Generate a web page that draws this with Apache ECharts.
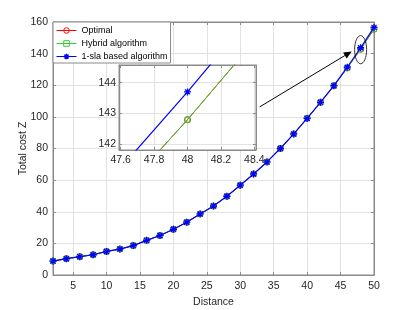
<!DOCTYPE html>
<html><head><meta charset="utf-8">
<script src="https://cdn.jsdelivr.net/npm/echarts@6/dist/echarts.min.js"></script>
<style>html,body{margin:0;padding:0;background:#fff}#c{width:413px;height:310px}</style>
</head><body><div id="c"></div>
<script>
const distance = [2,4,6,8,10,12,14,16,18,20,22,24,26,28,30,32,34,36,38,40,42,44,46,48,50];
const optimal  = [8.8,10.3,11.6,12.8,14.9,16.4,18.6,21.9,25.0,28.9,33.4,38.6,43.6,49.8,56.8,63.9,71.5,80.0,89.2,99.2,109.2,119.7,130.9,142.8,155.5];
const hybrid   = [8.8,10.3,11.6,12.8,14.9,16.4,18.6,21.9,25.0,28.9,33.4,38.6,43.6,49.8,56.8,63.9,71.5,80.0,89.2,99.2,109.2,119.7,130.9,142.8,155.5];
const slaBased = [8.8,10.3,11.6,12.8,14.9,16.4,18.6,21.9,25.0,28.9,33.4,38.6,43.6,49.8,56.8,63.9,71.5,80.0,89.2,99.0,109.2,119.7,131.4,143.7,156.6];
const mainXTicks = [5,10,15,20,25,30,35,40,45,50];
const mainYTicks = [0,20,40,60,80,100,120,140,160];
const insetXTicks = [47.6,47.8,48,48.2,48.4];
const insetYTicks = [142,143,144];
const seriesNames = ['Optimal','Hybrid algorithm','1-sla based algorithm'];

const axisColor = '#8a8a8a';
const textColor = '#262626';
const font = 'Liberation Sans, Arial, sans-serif';
const star = 'path://M0,-6L0,6M-6,0L6,0M-4.3,-4.3L4.3,4.3M-4.3,4.3L4.3,-4.3';
const styles = {
  'Optimal': {symbol:'circle', size:6, color:'#ff0000', bw:1, lw:1},
  'Hybrid algorithm': {symbol:'rect', size:5, color:'#33cc33', bw:1, lw:1},
  '1-sla based algorithm': {symbol:star, size:7, color:'#0000ff', bw:1.3, lw:1.2}
};

function mkAxis(o){
  const ticks = o.ticks;
  return {
    type:'value', gridIndex:o.grid, position:o.position, min:o.min, max:o.max, z:o.z,
    axisLine:{show:true, onZero:false, lineStyle:{color:axisColor,width:1}},
    axisTick:{show:true, inside:true, length:3, customValues:ticks, lineStyle:{color:axisColor}},
    axisLabel:{show:o.labels, customValues:ticks, color:textColor, fontSize:10.5, fontFamily:font, margin:o.margin||5},
    splitLine:{show:o.split, lineStyle:{color:'#e2e2e2',width:1}},
    name:o.name, nameLocation:'middle', nameGap:o.nameGap, nameMoveOverlap:false,
    nameTextStyle:{color:textColor,fontSize:10.5,fontFamily:font}
  };
}

function mkSeries(name, data, xi, yi, z){
  const s = styles[name];
  return {name, type:'line', xAxisIndex:xi, yAxisIndex:yi, z:z, clip:true,
    data: distance.map((d,i)=>[d,data[i]]), animation:false, showSymbol:true,
    symbol:s.symbol, symbolSize:s.size,
    itemStyle:{color:'rgba(0,0,0,0)',borderColor:s.color,borderWidth:s.bw},
    lineStyle:{color:s.color,width:s.lw}};
}

const chart = echarts.init(document.getElementById('c'), null, {renderer:'canvas'});
const option = {
  animation:false,
  backgroundColor:'#ffffff',
  grid:[
    {left:53, top:22, width:321, height:253, show:true, borderColor:axisColor, borderWidth:1, backgroundColor:'#fff', z:0, containLabel:false, outerBoundsMode:'none'},
    {left:119, top:65, width:137, height:85, show:true, borderColor:axisColor, borderWidth:1, backgroundColor:'#fff', z:10, containLabel:false, outerBoundsMode:'none'}
  ],
  xAxis:[
    mkAxis({grid:0, position:'bottom', min:2, max:50, ticks:mainXTicks, labels:true, split:true, name:'Distance', nameGap:22, z:1, margin:6}),
    mkAxis({grid:1, position:'bottom', min:47.59, max:48.41, ticks:insetXTicks, labels:true, split:true, z:11, margin:5}),
    mkAxis({grid:0, position:'top', min:2, max:50, ticks:mainXTicks, labels:false, split:false, z:1}),
    mkAxis({grid:1, position:'top', min:47.59, max:48.41, ticks:insetXTicks, labels:false, split:false, z:11})
  ],
  yAxis:[
    mkAxis({grid:0, position:'left', min:0, max:160, ticks:mainYTicks, labels:true, split:true, name:'Total cost Z', nameGap:24, z:1}),
    mkAxis({grid:1, position:'left', min:141.82, max:144.57, ticks:insetYTicks, labels:true, split:true, z:11, margin:3}),
    mkAxis({grid:0, position:'right', min:0, max:160, ticks:mainYTicks, labels:false, split:false, z:1}),
    mkAxis({grid:1, position:'right', min:141.82, max:144.57, ticks:insetYTicks, labels:false, split:false, z:11})
  ],
  legend:{
    data:seriesNames.map(n=>({name:n,
      itemStyle:{color:'rgba(0,0,0,0)',borderColor:styles[n].color,borderWidth:styles[n].bw},
      lineStyle:{color:styles[n].color,width:1}})),
    lineStyle:{width:1},
    orient:'vertical', left:53, top:22, padding:[4,3,2,3],
    itemWidth:20, itemHeight:7, itemGap:4, backgroundColor:'#fff',
    borderColor:axisColor, borderWidth:1, borderRadius:0, z:15,
    textStyle:{color:'#000',fontSize:9,fontFamily:font}
  },
  series:[
    mkSeries('Optimal', optimal, 0, 0, 2),
    mkSeries('Hybrid algorithm', hybrid, 0, 0, 3),
    mkSeries('1-sla based algorithm', slaBased, 0, 0, 4),
    mkSeries('Optimal', optimal, 1, 1, 12),
    mkSeries('Hybrid algorithm', hybrid, 1, 1, 13),
    mkSeries('1-sla based algorithm', slaBased, 1, 1, 14)
  ]
};
chart.setOption(option);

// annotations (arrow + ellipse), placed via the main axes
const f = {xAxisIndex:0, yAxisIndex:0};
const a0 = chart.convertToPixel(f,[32.9,106.3]);
const a1 = chart.convertToPixel(f,[46.67,141.4]);
const dx = a1[0]-a0[0], dy = a1[1]-a0[1], L = Math.hypot(dx,dy);
const ux = dx/L, uy = dy/L, hl = 8, hw = 3.5;
const bx = a1[0]-ux*hl, by = a1[1]-uy*hl;
const c = chart.convertToPixel(f,[48.0,142.5]);
const e1 = chart.convertToPixel(f,[48.9,151.4]);
chart.setOption({graphic:[
  {type:'line', z:20, shape:{x1:a0[0],y1:a0[1],x2:bx,y2:by}, style:{stroke:'#000',lineWidth:1}},
  {type:'polygon', z:20, shape:{points:[[a1[0],a1[1]],[bx-uy*hw,by+ux*hw],[bx+uy*hw,by-ux*hw]]}, style:{fill:'#000'}},
  {type:'ellipse', z:20, shape:{cx:c[0],cy:c[1],rx:Math.abs(e1[0]-c[0]),ry:Math.abs(e1[1]-c[1])}, style:{fill:null,stroke:'#000',lineWidth:0.8}}
]});
</script>
</body></html>
